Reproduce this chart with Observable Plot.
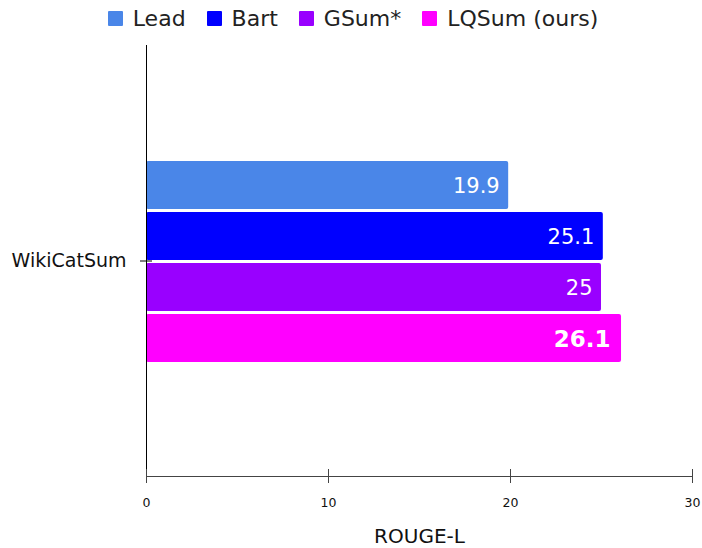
<!DOCTYPE html>
<html>
<head>
<meta charset="utf-8">
<script src="https://cdn.jsdelivr.net/npm/d3@7"></script>
<script src="https://cdn.jsdelivr.net/npm/@observablehq/plot@0.6"></script>
<style>
  body { margin: 0; background: #fff; font-family: "DejaVu Sans", Verdana, sans-serif; }
  #legend { height: 38px; display: flex; justify-content: center; align-items: center; gap: 21px; font-size: 22px; color: #222; padding-left: 4px; padding-bottom: 2px; box-sizing: border-box; }
  #legend .item { display: flex; align-items: center; gap: 10px; }
  #legend .sw { width: 15px; height: 15px; border-radius: 1px; }
</style>
</head>
<body>
<div id="legend"></div>
<div id="chart"></div>
<script>
const categories = ["WikiCatSum"];
const series = ["Lead", "Bart", "GSum*", "LQSum (ours)"];
const values = [19.9, 25.1, 25, 26.1];
const colors = ["#4a86e8", "#0000ff", "#9900ff", "#ff00ff"];
const boldSeries = ["LQSum (ours)"];
const xTicks = [0, 10, 20, 30];
const xLabel = ["ROUGE-L"];

const rows = series.map((s, i) => ({category: categories[0], series: s, value: values[i]}));

// legend
const legend = d3.select("#legend");
series.forEach((s, i) => {
  const it = legend.append("div").attr("class", "item");
  it.append("div").attr("class", "sw").style("background", colors[i]);
  it.append("span").text(s);
});

const chart = Plot.plot({
  width: 702,
  height: 510,
  marginTop: 7,
  marginBottom: 72,
  marginLeft: 146,
  marginRight: 10,
  style: {fontFamily: "DejaVu Sans, Verdana, sans-serif", color: "#111", background: "#fff"},
  x: {domain: [0, 30], axis: null},
  y: {domain: series, axis: null, padding: 0.05, insetTop: 113, insetBottom: 111},
  fy: {domain: categories, padding: 0, axis: null},
  color: {domain: series, range: colors},
  marks: [
    Plot.barX(rows, {fy: "category", y: "series", x: "value", fill: "series", rx: 2}),
    Plot.ruleX([0], {stroke: "#000", strokeWidth: 1}),
    Plot.frame({anchor: "bottom", stroke: "#444"}),
    Plot.axisX({ticks: xTicks, tickSize: 14, dy: -7, tickPadding: 15, fontSize: 12.5, stroke: "#444", label: null}),
    Plot.text(rows.filter(d => !boldSeries.includes(d.series)), {
      fy: "category", y: "series", x: "value", text: d => String(d.value),
      textAnchor: "end", dx: -9, dy: 1, fill: "white", fontSize: 21
    }),
    Plot.text(rows.filter(d => boldSeries.includes(d.series)), {
      fy: "category", y: "series", x: "value", text: d => String(d.value),
      textAnchor: "end", dx: -11, dy: 1, fill: "white", fontSize: 23, fontWeight: "bold"
    }),
    Plot.text(xLabel, {text: d => d, frameAnchor: "bottom", dy: 66, fontSize: 20, fill: "#111"}),
    Plot.axisFy({anchor: "left", tickSize: 12, dx: 6, tickPadding: 14, fontSize: 19, stroke: "#000", label: null})
  ]
});
document.getElementById("chart").appendChild(chart);
</script>
</body>
</html>
